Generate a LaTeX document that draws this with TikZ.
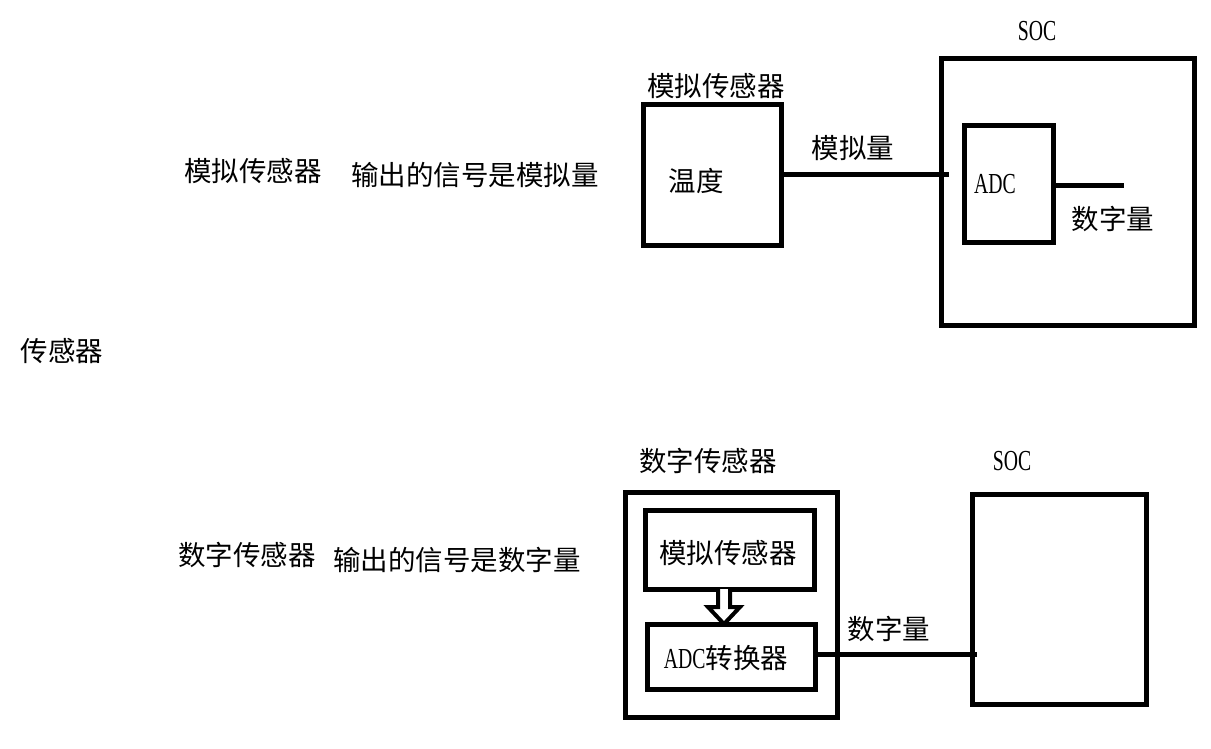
\documentclass[tikz,border=0pt]{standalone}
\usepackage{fontspec}
\setmainfont{Noto Sans CJK SC}
\newfontfamily\lat[FakeStretch=0.68]{Liberation Serif}
\begin{document}
\begin{tikzpicture}[x=1pt,y=-1pt,
  txt/.style={inner sep=0pt, font=\fontsize{27.5}{29}\selectfont},
  box/.style={draw, line width=5pt, inner sep=0pt},
  wire/.style={line width=5pt}]
\useasboundingbox (0,0) rectangle (1211,749);
% left texts
\node[txt] (t0) at (62,351) {传感器};
\node[txt] (t1) at (253,171) {模拟传感器};
\node[txt] (t2) at (475,175) {输出的信号是模拟量};
\node[txt] (t3) at (247,555) {数字传感器};
\node[txt] (t4) at (457,560) {输出的信号是数字量};
% top row
\node[txt] (ttl1) at (716,86) {模拟传感器};
\node[box, minimum width=138pt, minimum height=140pt] (tempbox) at (712,175) {};
\node[txt] (wendu) at (696,181) {温度};
\node[box, minimum width=253pt, minimum height=266pt] (soc1) at (1067.5,192) {};
\node[txt] (soc1l) at (1037,31) {\fontsize{29}{30}\lat SOC};
\node[box, minimum width=89pt, minimum height=116pt] (adcbox) at (1008.5,184) {};
\node[txt] (adcl) at (995,184) {\fontsize{29}{30}\lat ADC};
\node[txt] (mnl) at (853,148) {模拟量};
\node[txt] (szl1) at (1113,219) {数字量};
\coordinate (in1) at (949,175);
\coordinate (out1) at (1124,186);
\draw[wire] (tempbox.east) -- (in1);
\draw[wire] (adcbox.east |- out1) -- (out1);
% bottom row
\node[txt] (ttl2) at (708,461) {数字传感器};
\node[box, minimum width=212pt, minimum height=225pt] (dsens) at (731,604.5) {};
\node[box, minimum width=169pt, minimum height=79pt] (sens) at (729.5,549.5) {};
\node[txt] (sensl) at (728,553) {模拟传感器};
\node[box, minimum width=168pt, minimum height=65pt] (adcc) at (731,656.5) {};
\node[txt] (adccl) at (726,658) {{\fontsize{29}{30}\lat ADC}转换器};
\node[box, minimum width=174pt, minimum height=210pt] (soc2) at (1059,599) {};
\node[txt] (soc2l) at (1012,461) {\fontsize{29}{30}\lat SOC};
\node[txt] (szl2) at (889,629) {数字量};
\coordinate (in2) at (977,654);
\draw[wire] (adcc.east |- in2) -- (in2);
% hollow arrow
\draw[line width=4pt, fill=white, line join=miter]
  (718,589) -- (718,607) -- (708,607) -- (724,624) -- (740,607) -- (730,607) -- (730,589);
\end{tikzpicture}
\end{document}
